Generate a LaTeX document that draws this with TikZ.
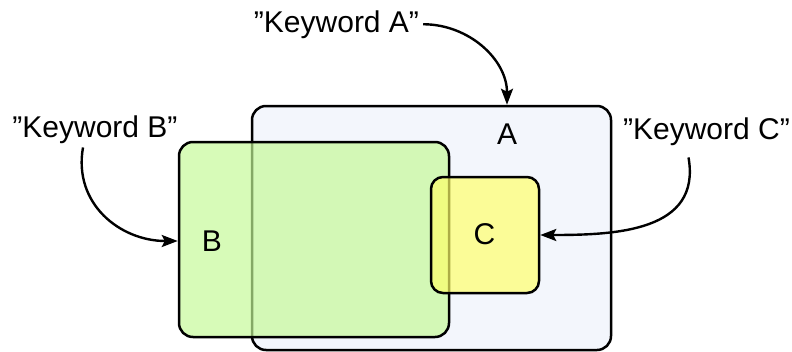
\documentclass[tikz,border=0pt]{standalone}
\usepackage{fontspec}
\setmainfont{Liberation Sans}
\usetikzlibrary{arrows.meta}

\definecolor{fillA}{HTML}{F3F6FC}
\definecolor{fillB}{RGB}{196,249,150}
\definecolor{fillC}{RGB}{255,255,104}

\tikzset{
  setbox/.style={draw=black, line width=2.5pt, rounded corners=14pt, inner sep=0pt},
  setlabel/.style={font=\fontsize{30}{36}\selectfont, inner sep=0pt},
  keyword/.style={font=\fontsize{30}{36}\selectfont, inner sep=4pt, anchor=base},
  pointer/.style={line width=2.4pt, -{Stealth[length=16pt,width=12pt,inset=3pt]}}
}

\begin{document}
\begin{tikzpicture}[x=1pt,y=-1pt]
      \useasboundingbox (0,0) rectangle (792,351);
      % the three sets
      \node[setbox, fill=fillA, minimum width=359pt, minimum height=244pt] (boxA) at (431.5, 228) {};
      \node[setbox, fill=fillB, fill opacity=0.68, minimum width=270pt, minimum height=195pt] (boxB) at (314, 239.5) {};
      \node[setbox, fill=fillC, fill opacity=0.68, rounded corners=12pt, minimum width=108pt, minimum height=116pt] (boxC) at (485, 235) {};
      \node[setlabel] (labA) at (507, 134) {A};
      \node[setlabel] (labB) at (212, 241) {B};
      \node[setlabel] (labC) at (484.5, 234) {C};
      % keywords
      \node[keyword] (kwA) at (336.5, 32) {”Keyword A”};
      \node[keyword] (kwB) at (95, 137) {”Keyword B”};
      \node[keyword] (kwC) at (706.5, 139) {”Keyword C”};
      \draw[pointer] (kwA.east) to[out=0, in=90] (labA |- boxA.north);
      \draw[pointer] ([xshift=-12pt]kwB.south) to[out=-100, in=180, looseness=1.1] (boxB.west |- labB);
      \draw[pointer] ([xshift=-18pt,yshift=-8pt]kwC.south) to[out=-80, in=0, looseness=1.15] (boxC.east);
    \end{tikzpicture}
\end{document}
